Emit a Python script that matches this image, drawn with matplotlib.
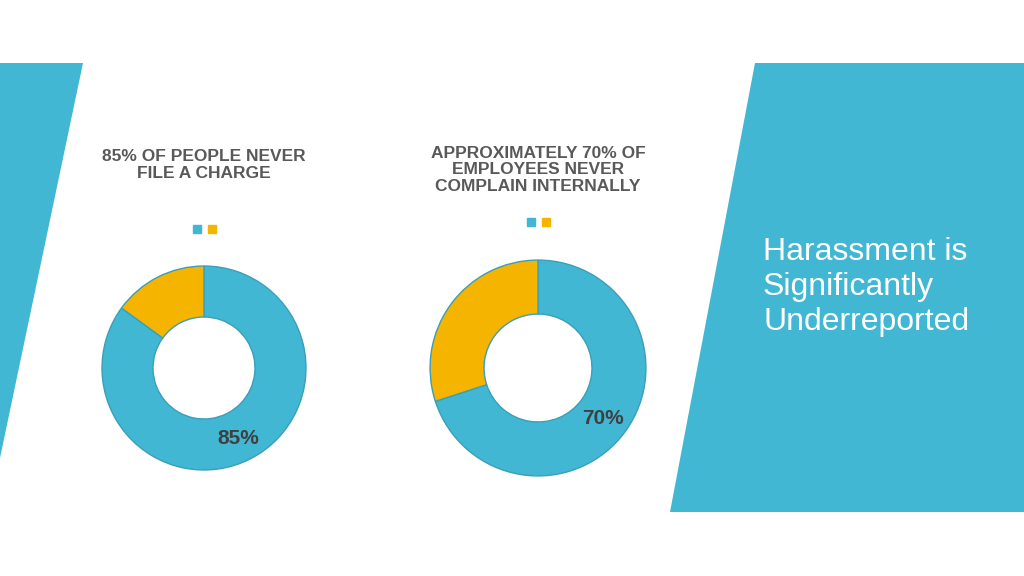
import matplotlib.pyplot as plt
from matplotlib.patches import Polygon, Rectangle

BLUE = "#41B7D3"
GOLD = "#F5B400"

titles = ["85% OF PEOPLE NEVER\nFILE A CHARGE",
          "APPROXIMATELY 70% OF\nEMPLOYEES NEVER\nCOMPLAIN INTERNALLY"]
never_values = [85, 70]
labels = ["85%", "70%"]

fig = plt.figure(figsize=(10.24, 5.76), dpi=100)
bg = fig.add_axes([0, 0, 1, 1])
bg.set_xlim(0, 1024)
bg.set_ylim(576, 0)
bg.axis("off")

# background shapes
bg.add_patch(Polygon([(0, 63), (83, 63), (0, 458)], color=BLUE, lw=0))
bg.add_patch(Polygon([(755, 63), (1024, 63), (1024, 512), (670, 512)], color=BLUE, lw=0))
bg.text(763, 287, "Harassment is\nSignificantly\nUnderreported", color="white",
        fontsize=23, fontfamily="Liberation Sans", va="center", ha="left", linespacing=1.2)

# title positions, pie centres / radii in pixels
title_pos = [(204, 165), (538, 170)]
centres = [(204, 368), (538, 368)]
radii = [103, 109]
legend_y = [229, 222]
label_pos = [(238, 438), (603, 418)]

for i in range(2):
    tx, ty = title_pos[i]
    bg.text(tx, ty, titles[i], ha="center", va="center", fontsize=12.5,
            fontweight="bold", color="#595959", fontfamily="Liberation Sans",
            linespacing=1.15)
    bg.add_patch(Rectangle((centres[i][0] - 11, legend_y[i] - 4), 8, 8, color=BLUE))
    bg.add_patch(Rectangle((centres[i][0] + 4, legend_y[i] - 4), 8, 8, color=GOLD))

    cx, cy = centres[i]
    r = radii[i]
    ax = fig.add_axes([(cx - r) / 1024, 1 - (cy + r) / 576, 2 * r / 1024, 2 * r / 576])
    ax.pie([never_values[i], 100 - never_values[i]], colors=[BLUE, GOLD], startangle=90,
           counterclock=False, radius=1,
           wedgeprops=dict(width=0.5, edgecolor="#3A9FB8", linewidth=1))
    ax.set_xlim(-1.01, 1.01)
    ax.set_ylim(-1.01, 1.01)
    ax.set_aspect("equal")
    lx, ly = label_pos[i]
    fig.text(lx / 1024, 1 - ly / 576, labels[i], ha="center", va="center", fontsize=15,
             fontweight="bold", color="#404040", fontfamily="Liberation Sans")

fig.savefig("out.png", dpi=100)
